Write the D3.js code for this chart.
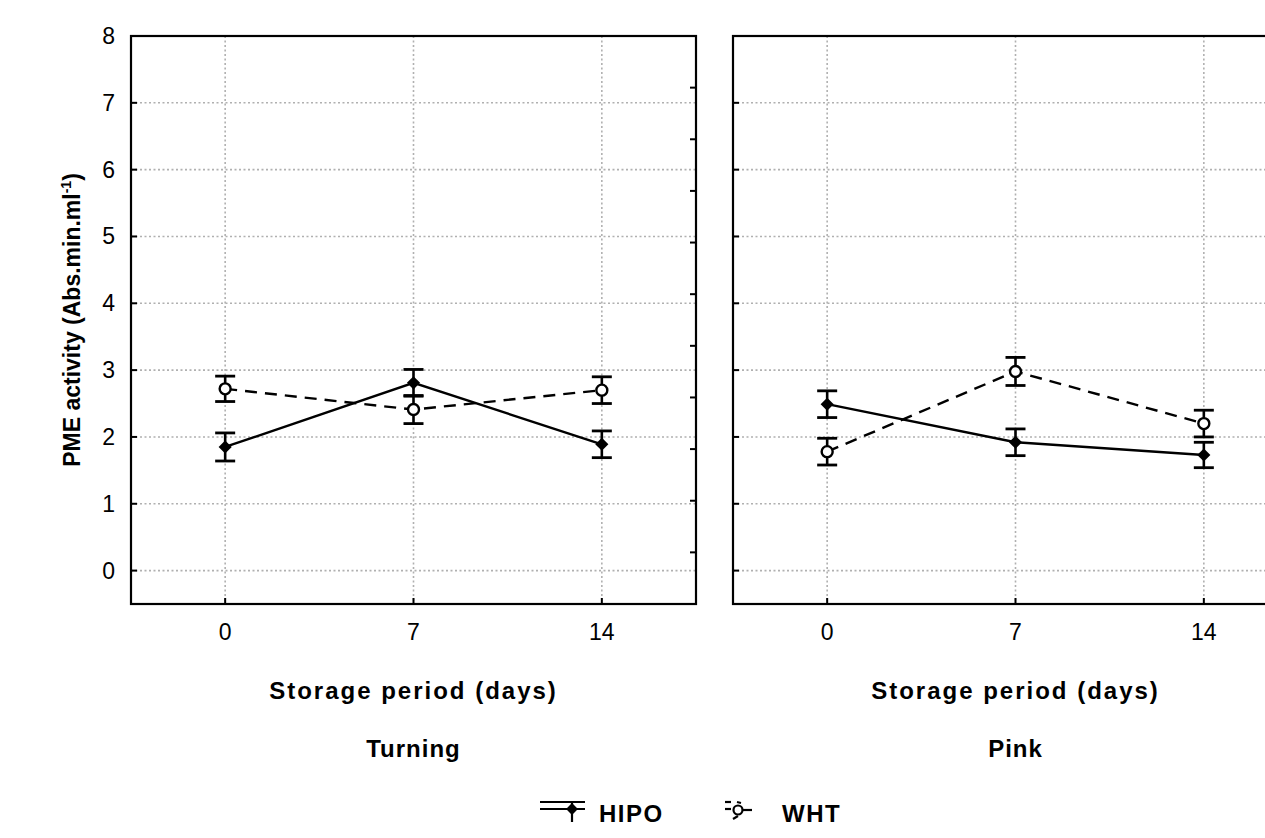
<!DOCTYPE html>
<html>
<head>
<meta charset="utf-8">
<script src="https://cdn.jsdelivr.net/npm/d3@7.9.0/dist/d3.min.js"></script>
<style>
  body { margin: 0; background: #fff; }
  svg text { font-family: "Liberation Sans", Arial, sans-serif; fill: #000; }
</style>
</head>
<body>
<svg id="chart" width="1265" height="838"></svg>
<script>
const days = ['0', '7', '14'];
const stages = ['Turning', 'Pink'];
const yTicks = [0, 1, 2, 3, 4, 5, 6, 7, 8];

// means and standard errors, per stage
const hipoTurning = [1.85, 2.81, 1.89];
const hipoTurningErr = [0.21, 0.2, 0.2];
const whtTurning = [2.72, 2.41, 2.7];
const whtTurningErr = [0.19, 0.21, 0.2];
const hipoPink = [2.49, 1.92, 1.73];
const hipoPinkErr = [0.2, 0.2, 0.19];
const whtPink = [1.78, 2.98, 2.2];
const whtPinkErr = [0.2, 0.21, 0.2];

const panels = [
  { stage: stages[0], left: 131, hipo: hipoTurning, hipoErr: hipoTurningErr, wht: whtTurning, whtErr: whtTurningErr, labels: true },
  { stage: stages[1], left: 733, hipo: hipoPink, hipoErr: hipoPinkErr, wht: whtPink, whtErr: whtPinkErr, labels: false }
];

const svg = d3.select('#chart');
const plotTop = 36, plotBottom = 604, panelW = 565;

let y = d3.scaleLinear().domain([-0.5, 8]).range([plotBottom, plotTop]);

panels.forEach((p) => {
  let x = d3.scalePoint().domain(days).range([p.left + panelW / 6, p.left + panelW * 5 / 6]);
  let g = svg.append('g');

  // grid
  g.selectAll('.hg').data(yTicks.slice(0, 8)).join('line')
    .attr('x1', p.left).attr('x2', p.left + panelW)
    .attr('y1', d => y(d)).attr('y2', d => y(d))
    .attr('stroke', '#b0b0b0').attr('stroke-width', 1.6).attr('stroke-dasharray', '2,2.5');
  g.selectAll('.vg').data(days).join('line')
    .attr('x1', d => x(d)).attr('x2', d => x(d))
    .attr('y1', plotTop).attr('y2', plotBottom)
    .attr('stroke', '#b0b0b0').attr('stroke-width', 1.6).attr('stroke-dasharray', '2,2.5');

  // frame
  g.append('rect')
    .attr('x', p.left).attr('y', plotTop).attr('width', panelW).attr('height', plotBottom - plotTop)
    .attr('fill', 'none').attr('stroke', '#000').attr('stroke-width', 2.2);

  // left ticks (inward)
  g.selectAll('.lt').data(yTicks).join('line')
    .attr('x1', p.left).attr('x2', p.left + 6)
    .attr('y1', d => y(d)).attr('y2', d => y(d))
    .attr('stroke', '#000').attr('stroke-width', 2);
  // bottom ticks (inward)
  g.selectAll('.bt').data(days).join('line')
    .attr('x1', d => x(d)).attr('x2', d => x(d))
    .attr('y1', plotBottom).attr('y2', plotBottom - 6)
    .attr('stroke', '#000').attr('stroke-width', 2);

  if (p.labels) {
    // right-side ticks on the first panel
    let yr = d3.scaleLinear().domain([0, 11]).range([plotBottom, plotTop]);
    g.selectAll('.rt').data(d3.range(1, 11)).join('line')
      .attr('x1', p.left + panelW - 6).attr('x2', p.left + panelW)
      .attr('y1', d => yr(d)).attr('y2', d => yr(d))
      .attr('stroke', '#000').attr('stroke-width', 2);

    g.selectAll('.yl').data(yTicks).join('text')
      .attr('x', 115).attr('y', d => y(d) + 8)
      .attr('text-anchor', 'end').attr('font-size', 23)
      .text(d => d);
  }

  // x tick labels
  g.selectAll('.xl').data(days).join('text')
    .attr('x', d => x(d)).attr('y', 640)
    .attr('text-anchor', 'middle').attr('font-size', 23)
    .text(d => d);

  let cx = p.left + panelW / 2;
  g.append('text').attr('x', cx).attr('y', 699)
    .attr('text-anchor', 'middle').attr('font-size', 24).attr('font-weight', 'bold')
    .attr('letter-spacing', 2)
    .text('Storage period (days)');
  g.append('text').attr('x', cx).attr('y', 757)
    .attr('text-anchor', 'middle').attr('font-size', 24).attr('font-weight', 'bold')
    .attr('letter-spacing', 1)
    .text(p.stage);

  // series
  let series = [
    { vals: p.hipo, err: p.hipoErr, dash: null, marker: 'diamond' },
    { vals: p.wht, err: p.whtErr, dash: '12,8', marker: 'circle' }
  ];
  let line = d3.line().x((d, i) => x(days[i])).y(d => y(d));
  series.forEach(s => {
    g.append('path').attr('d', line(s.vals))
      .attr('fill', 'none').attr('stroke', '#000').attr('stroke-width', 2.4)
      .attr('stroke-dasharray', s.dash);
    s.vals.forEach((v, i) => {
      let px = x(days[i]);
      let y1 = y(v + s.err[i]), y2 = y(v - s.err[i]);
      g.append('line').attr('x1', px).attr('x2', px).attr('y1', y1).attr('y2', y2)
        .attr('stroke', '#000').attr('stroke-width', 2.6);
      [y1, y2].forEach(cy => {
        g.append('line').attr('x1', px - 10).attr('x2', px + 10).attr('y1', cy).attr('y2', cy)
          .attr('stroke', '#000').attr('stroke-width', 2.8);
      });
      if (s.marker === 'diamond') {
        g.append('path')
          .attr('d', d3.symbol(d3.symbolDiamond2, 110)())
          .attr('transform', `translate(${px},${y(v)})`)
          .attr('fill', '#000');
      } else {
        g.append('circle').attr('cx', px).attr('cy', y(v)).attr('r', 5.5)
          .attr('fill', '#fff').attr('stroke', '#000').attr('stroke-width', 2.4);
      }
    });
  });
});

// y axis title
svg.append('text')
  .attr('transform', 'translate(80,320) rotate(-90)')
  .attr('text-anchor', 'middle').attr('font-size', 23).attr('font-weight', 'bold')
  .html('PME activity (Abs.min.ml<tspan dy="-9" font-size="14">-1</tspan><tspan dy="9">)</tspan>');

// legend
const legendItems = ['HIPO', 'WHT'];
let lg = svg.append('g');
// HIPO symbol
lg.append('line').attr('x1', 540).attr('x2', 585).attr('y1', 802).attr('y2', 802).attr('stroke', '#000').attr('stroke-width', 2.2);
lg.append('line').attr('x1', 540).attr('x2', 585).attr('y1', 809).attr('y2', 809).attr('stroke', '#000').attr('stroke-width', 2.2);
lg.append('line').attr('x1', 572).attr('x2', 572).attr('y1', 802).attr('y2', 822).attr('stroke', '#000').attr('stroke-width', 2.2);
lg.append('path').attr('d', d3.symbol(d3.symbolDiamond2, 90)()).attr('transform', 'translate(572,809)').attr('fill', '#000');
lg.append('text').attr('x', 599).attr('y', 822).attr('font-size', 24).attr('font-weight', 'bold').attr('letter-spacing', 1.5).text(legendItems[0]);
// WHT symbol
lg.append('line').attr('x1', 725).attr('x2', 731).attr('y1', 802).attr('y2', 802).attr('stroke', '#000').attr('stroke-width', 2.2);
lg.append('line').attr('x1', 725).attr('x2', 731).attr('y1', 809).attr('y2', 809).attr('stroke', '#000').attr('stroke-width', 2.2);
lg.append('line').attr('x1', 737).attr('x2', 741).attr('y1', 802).attr('y2', 803).attr('stroke', '#000').attr('stroke-width', 2.2);
lg.append('circle').attr('cx', 738).attr('cy', 810).attr('r', 4.5).attr('fill', '#fff').attr('stroke', '#000').attr('stroke-width', 2.2);
lg.append('line').attr('x1', 743).attr('x2', 752).attr('y1', 810).attr('y2', 810).attr('stroke', '#000').attr('stroke-width', 2.2);
lg.append('line').attr('x1', 733).attr('x2', 738).attr('y1', 819).attr('y2', 816).attr('stroke', '#000').attr('stroke-width', 2.2);
lg.append('text').attr('x', 782).attr('y', 822).attr('font-size', 24).attr('font-weight', 'bold').attr('letter-spacing', 1.5).text(legendItems[1]);
</script>
</body>
</html>
